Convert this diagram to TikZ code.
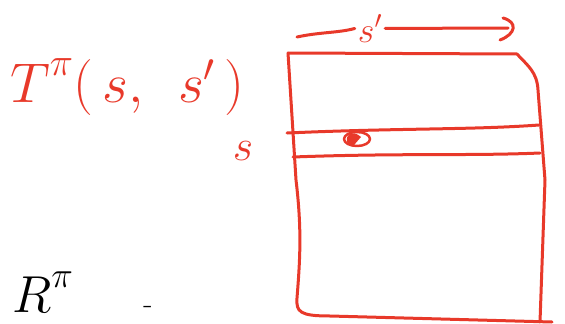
\documentclass[tikz,border=0pt]{standalone}
\usepackage{fix-cm}
\usetikzlibrary{positioning, shapes.geometric}
\definecolor{penred}{HTML}{E8392A}

\begin{document}
\begin{tikzpicture}[x=1pt, y=-1pt,
  pen/.style={penred, line width=3pt, line cap=round, line join=round},
  redtext/.style={penred, inner sep=0pt, font=\fontsize{56}{56}\selectfont},
  blacktext/.style={black, inner sep=0pt, font=\fontsize{52}{52}\selectfont}]
  \useasboundingbox (0,0) rectangle (565,324);

  % Transition label
  \node[redtext, anchor=base west] (tlabel) at (10,102)
    {$T^{\raisebox{6pt}{$\scriptstyle\pi$}}\bigl(\,s,\;\, s'\,\bigr)$};

  % Reward label and the dash
  \node[blacktext, anchor=base west] (rlabel) at (12,312)
    {$R^{\raisebox{6pt}{$\scriptstyle\pi$}}$};
  \node[blacktext, font=\fontsize{30}{30}\selectfont] (dash) at (148,310) {-};

  % Row label s
  \node[redtext, font=\fontsize{44}{44}\selectfont, anchor=base] (srow) at (243,160) {$s$};

  % Column label s' with its arrow
  \node[redtext, font=\fontsize{36}{36}\selectfont, anchor=base] (scol) at (370,42) {$s'$};
  \coordinate (arrL) at (297,37);
  \coordinate (arrTip) at (508,28);
  \draw[pen] (arrL) .. controls (320,32) and (338,33) .. ([xshift=-3pt]scol.west);
  \draw[pen] ([xshift=3pt]scol.east) -- (arrTip);
  \draw[pen] (503,18) .. controls (518,22) and (516,34) .. (500,40);

  % Matrix box
  \coordinate (tl) at (288,53);
  \coordinate (tr) at (517,54);
  \coordinate (br) at (540,322);
  \coordinate (bl) at (297,298);
  \draw[pen] (tl) -- (tr) .. controls (528,66) and (537,72) .. (538,90)
    -- (545,180) -- (br);
  \draw[pen] (tl) -- (296,180) .. controls (302,230) and (300,260) .. (bl)
    .. controls (296,312) and (300,316) .. (330,316) -- (552,322);

  % Row s of the matrix
  \draw[pen] (287,133) .. controls (400,128) and (470,130) .. (539,125);
  \draw[pen] (293,157) .. controls (400,153) and (470,156) .. (540,153);

  % Entry (s, s')
  \node[pen, draw, ellipse, minimum width=26pt, minimum height=14pt, inner sep=0pt,
    line width=2.5pt] (entry) at (357,139) {};
  \fill[penred] (350,134) .. controls (344,138) and (346,146) .. (354,145)
    -- (361,137) .. controls (357,133) and (353,133) .. (350,134);
\end{tikzpicture}
\end{document}
